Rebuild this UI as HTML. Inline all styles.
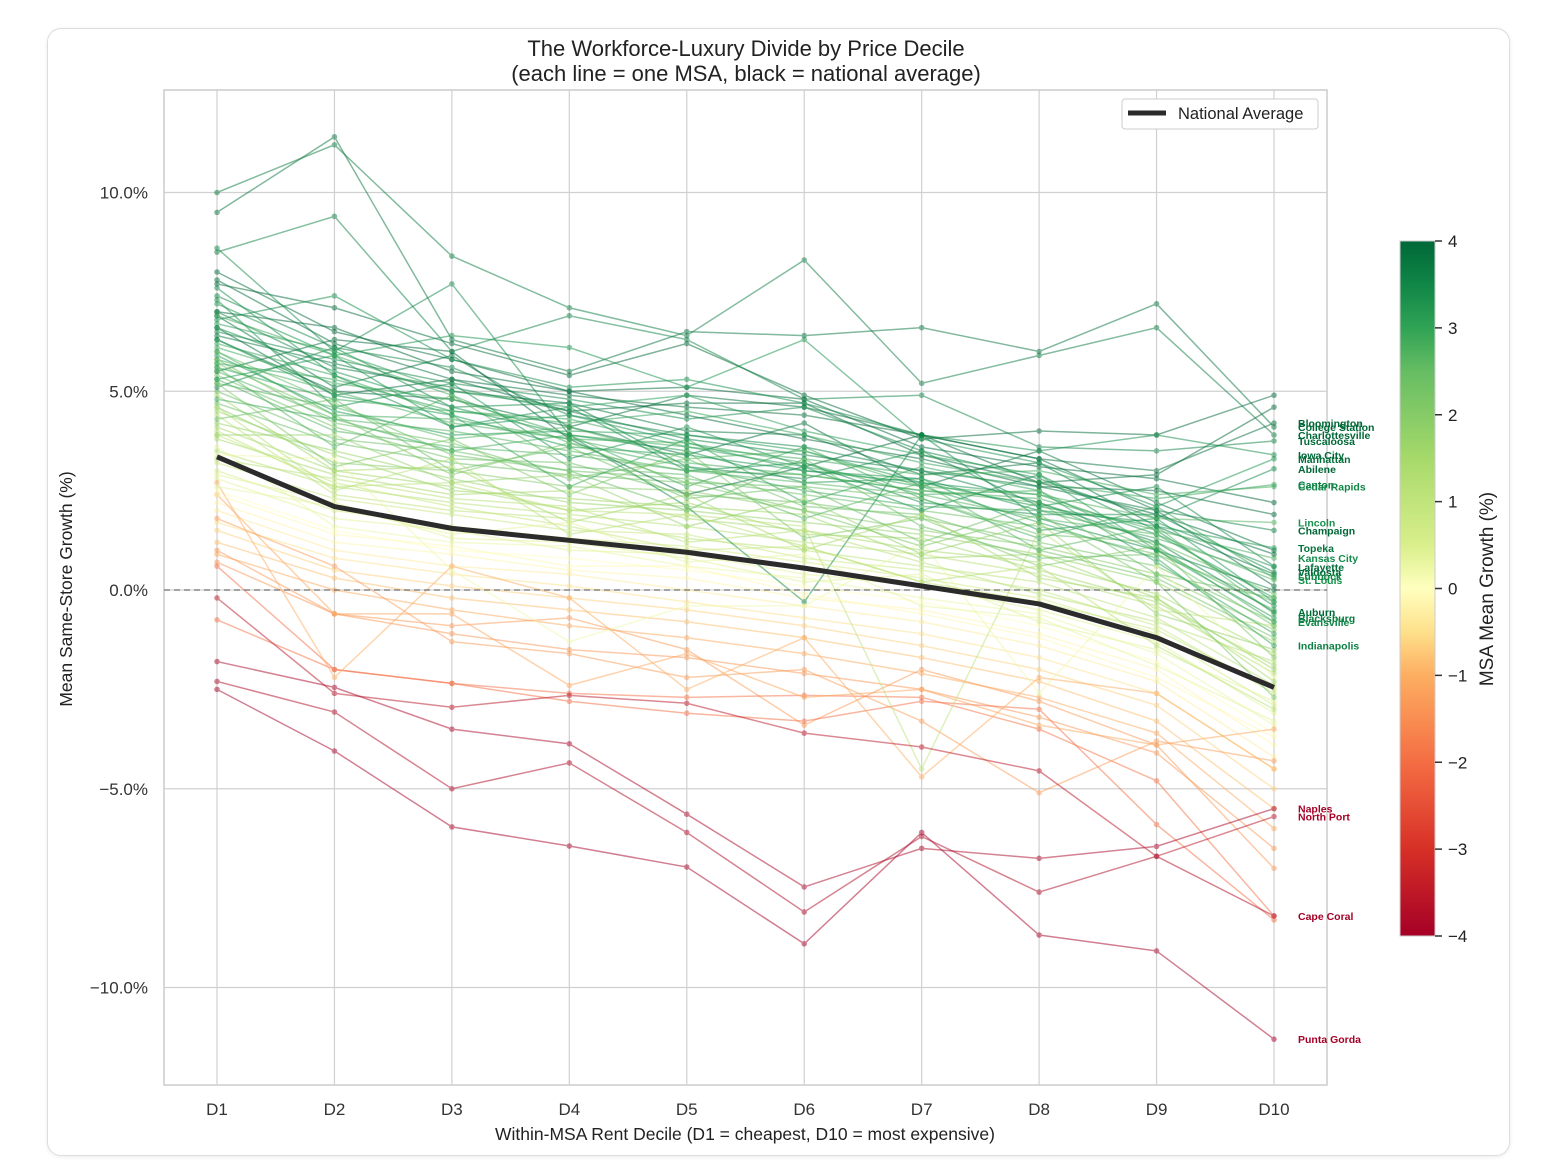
<!DOCTYPE html>
<html><head><meta charset="utf-8"><style>
body{margin:0;background:#fff;width:1554px;height:1176px;overflow:hidden;font-family:"Liberation Sans",sans-serif;}
#card{position:absolute;left:47px;top:28px;width:1461px;height:1126px;border:1px solid #ddd;border-radius:14px;box-shadow:0 1px 4px rgba(0,0,0,0.08);}
svg{position:absolute;left:0;top:0;}
</style></head><body>
<div id="card"></div>
<svg id="chart" width="1554" height="1176"></svg>
<script>
const deciles=["D1","D2","D3","D4","D5","D6","D7","D8","D9","D10"];
const yTicks=[-10,-5,0,5,10];
const cbTicks=[-4,-3,-2,-1,0,1,2,3,4];
const nationalAvg=[3.35,2.1,1.55,1.25,0.95,0.55,0.1,-0.35,-1.2,-2.45];
const namedNames=["Bloomington","College Station","Charlottesville","Tuscaloosa","Iowa City","Manhattan","Abilene","Canton","Cedar Rapids","Lincoln","Champaign","Topeka","Kansas City","Lafayette","Valdosta","Lubbock","St. Louis","Auburn","Blacksburg","Evansville","Indianapolis","Naples","North Port","Cape Coral","Punta Gorda"];
const namedMeans=[3.9,3.8,3.7,3.6,3.4,3.3,3.5,3.0,2.9,2.7,3.6,3.2,2.8,3.3,3.4,2.9,2.7,3.5,3.1,2.9,3.0,-3.9,-3.6,-3.8,-4.0];
const namedSeries=[
[7.8,6.2,5.3,4.9,4.6,4.4,3.9,3.3,3.0,4.2],
[9.5,11.4,6.3,5.5,6.5,6.4,6.6,6.0,7.2,4.1],
[10.0,11.2,8.4,7.1,6.4,8.3,5.2,5.9,6.6,3.9],
[8.5,9.4,6.0,6.9,6.3,4.8,4.9,3.6,3.5,3.75],
[6.8,7.4,5.8,5.1,5.3,4.7,3.9,3.5,3.9,3.4],
[7.2,5.9,6.4,6.1,5.1,6.3,3.8,3.2,2.1,3.3],
[6.5,5.8,5.2,4.8,4.3,4.6,3.5,2.8,1.8,3.05],
[5.6,4.8,4.5,4.2,4.5,3.9,3.2,2.7,2.3,2.65],
[6.1,5.2,4.8,3.9,3.6,3.3,2.9,3.0,2.4,2.6],
[5.2,4.6,3.8,4.1,3.3,3.5,2.6,2.4,1.8,1.7],
[7.0,5.6,5.1,4.5,3.8,3.4,3.0,2.6,2.0,1.5],
[6.3,4.9,4.4,3.6,3.4,3.0,2.7,2.1,1.6,1.06],
[5.8,5.0,4.2,3.8,3.2,2.9,2.5,2.3,1.5,0.8],
[6.6,5.5,4.6,3.9,3.5,2.7,2.8,2.0,1.7,0.58],
[7.6,5.4,4.1,4.6,3.0,3.2,2.2,1.9,1.9,0.45],
[6.9,5.9,4.9,3.7,3.1,2.5,2.1,2.0,1.3,0.35],
[5.5,4.3,4.0,3.5,3.0,2.7,2.4,1.8,1.4,0.25],
[7.4,6.1,5.6,4.4,3.9,3.6,3.0,2.2,1.2,-0.55],
[6.7,6.0,5.0,4.6,4.9,4.0,3.4,2.9,1.0,-0.7],
[6.0,4.4,4.3,3.8,3.7,3.2,2.4,2.5,1.1,-0.8],
[5.7,5.3,4.5,4.3,3.6,3.1,2.6,1.7,0.8,-1.4],
[-1.8,-2.45,-3.5,-3.87,-5.64,-7.47,-6.5,-6.75,-6.45,-5.5],
[-0.2,-2.6,-2.95,-2.65,-2.85,-3.6,-3.95,-4.55,-6.7,-5.7],
[-2.3,-3.07,-5.0,-4.35,-6.1,-8.1,-6.2,-7.6,-6.7,-8.2],
[-2.5,-4.05,-5.96,-6.44,-6.97,-8.9,-6.1,-8.68,-9.08,-11.3]];
const bgSeries=[
[5.0,3.8,3.5,3.0,2.8,2.4,2.0,1.6,0.9,-0.3],[4.6,3.2,3.0,2.6,2.5,2.0,1.5,1.1,0.4,-1.0],
[5.4,4.1,3.3,3.2,2.4,2.2,1.8,1.2,0.6,-0.8],[4.2,3.5,2.8,2.2,2.0,1.7,1.4,0.9,0.2,-1.3],
[3.8,2.9,2.4,2.5,1.8,1.5,1.0,0.7,-0.1,-1.6],[4.9,3.0,2.6,2.0,2.2,1.4,1.3,0.5,-0.3,-1.9],
[3.5,2.6,2.2,1.9,1.6,1.2,0.9,0.4,-0.4,-2.1],[4.4,2.4,2.0,1.8,1.3,1.0,0.6,0.2,-0.7,-2.4],
[3.2,2.3,1.9,1.5,1.4,0.8,0.5,0.0,-0.9,-2.6],[3.0,2.0,1.6,1.3,1.1,0.7,0.3,-0.2,-1.1,-2.9],
[2.8,1.8,1.5,1.0,0.9,0.4,0.1,-0.5,-1.3,-3.1],[3.6,1.6,1.2,1.1,0.6,0.3,-0.2,-0.6,-1.6,-3.4],
[2.5,1.5,1.0,0.8,0.5,0.1,-0.3,-0.9,-1.8,-3.6],[2.2,1.2,0.9,0.5,0.3,-0.2,-0.5,-1.1,-2.0,-3.9],
[2.0,1.0,0.6,0.4,0.0,-0.4,-0.8,-1.4,-2.3,-4.2],[1.7,0.8,0.4,0.1,-0.3,-0.7,-1.1,-1.7,-2.6,-4.5],
[1.5,0.5,0.1,-0.2,-0.5,-0.9,-1.4,-2.0,-2.9,-5.0],[1.2,0.3,-0.2,-0.5,-0.8,-1.2,-1.7,-2.3,-3.3,-5.5],
[0.9,0.0,-0.5,-0.9,-1.2,-1.6,-2.1,-2.7,-3.6,-6.0],[0.7,-0.6,-1.1,-1.5,-1.7,-2.1,-2.5,-3.2,-4.1,-6.5],
[1.0,-0.6,-0.9,-0.7,-1.5,-3.4,-2.0,-2.8,-3.9,-7.0],[0.6,-2.0,-2.35,-2.8,-3.1,-3.3,-2.8,-3.0,-5.9,-8.3],
[-0.75,-2.0,-2.35,-2.6,-2.7,-2.65,-2.7,-3.5,-4.8,-8.2],[1.8,0.6,-1.3,-1.6,-2.2,-2.0,-3.3,-5.1,-3.8,-4.3],
[2.4,-0.6,-0.6,-2.4,-1.6,-2.7,-2.5,-3.4,-3.9,-3.5],[6.3,5.0,4.8,4.1,4.9,4.6,3.9,3.3,2.0,0.1],
[5.9,4.5,3.9,4.0,3.9,3.5,2.7,2.4,1.4,-0.2],[6.6,4.9,5.3,4.5,4.7,4.7,3.4,2.7,1.9,0.9],
[5.3,4.0,3.6,3.4,3.0,2.9,2.5,2.2,1.0,-0.5],[4.7,3.7,3.2,2.9,2.7,2.6,2.3,1.4,1.2,-0.1],
[8.0,6.5,5.8,5.0,5.1,4.8,3.6,3.1,2.8,2.2],[7.7,7.1,6.2,5.4,6.2,4.9,3.8,4.0,3.9,4.9],
[5.5,6.3,6.0,3.8,2.4,3.1,3.9,2.7,2.9,4.6],[8.6,6.0,7.7,3.9,2.1,-0.3,3.9,1.8,1.0,0.0],
[4.0,2.6,2.7,2.0,1.9,1.6,-4.5,1.5,-0.5,-0.9],[3.4,3.3,0.5,-1.3,-0.4,-0.4,1.2,-2.6,0.6,-2.2],
[2.7,-2.2,0.6,-0.2,-2.5,-1.2,-4.7,-2.2,-2.6,-4.5],[5.8,4.2,3.7,2.8,3.3,2.1,1.9,1.0,0.3,-1.2],
[4.5,3.4,2.5,2.3,2.1,1.9,0.8,0.9,-0.2,-2.0],[2.9,2.2,1.3,1.2,0.8,0.2,0.4,-0.8,-1.5,-2.8],
[3.9,2.7,2.1,1.6,1.0,1.1,0.2,-0.3,-1.0,-2.5],[2.4,1.4,1.1,0.6,0.6,-0.1,-0.6,-1.2,-2.2,-3.7],
[6.9,5.1,5.9,4.1,3.4,4.2,2.6,3.5,2.2,1.0],[5.1,6.1,4.6,4.7,3.1,2.8,3.5,2.1,2.6,0.6],
[7.3,4.6,5.2,3.3,4.1,3.1,2.0,2.9,1.5,-0.4],[4.8,4.3,3.5,3.9,2.6,3.6,2.3,1.3,2.1,0.3],
[6.2,5.4,4.4,2.6,3.8,2.2,3.1,2.5,0.7,-1.1],[5.6,3.6,4.9,3.1,2.9,1.8,2.7,1.0,1.6,-0.6],
[4.3,4.8,3.0,3.6,2.3,2.6,1.2,2.2,0.4,-0.2],[5.2,3.1,3.8,2.4,3.5,1.3,1.8,0.6,1.1,-1.7],
[3.9,3.9,2.7,2.9,1.6,2.3,0.9,1.7,-0.6,-1.5],[6.0,4.7,3.4,3.0,2.0,3.3,1.6,0.8,0.9,-0.9],
[4.1,3.0,3.1,1.7,2.4,1.0,1.9,0.3,-0.2,-2.3],[3.3,2.8,2.3,2.1,1.2,1.5,0.7,-0.1,-0.8,-1.8],
[5.7,4.4,2.9,3.7,2.7,2.0,1.1,1.9,0.2,-2.7],[4.6,2.5,3.3,1.4,1.9,1.1,0.2,0.6,-1.4,-3.0],
[2.6,2.1,1.4,1.7,0.7,0.9,-0.4,-0.7,-1.9,-3.3],[7.0,6.6,5.5,5.0,4.4,3.8,3.3,2.6,2.5,1.9],
[6.4,5.7,5.0,4.7,4.0,3.9,2.9,3.2,1.6,0.4],[5.3,5.9,4.1,4.4,3.7,3.0,2.8,1.5,1.8,-0.3]];

const NS="http://www.w3.org/2000/svg";
const svg=document.getElementById('chart');
const X0=217,DX=(1274-217)/9,Y0=590,KY=39.75;
const xs=i=>X0+i*DX, ys=v=>Y0-v*KY;
function el(t,a,p){const e=document.createElementNS(NS,t);for(const k in a)e.setAttribute(k,a[k]);(p||svg).appendChild(e);return e;}
const stops=[[-4,[165,0,38]],[-3,[215,48,39]],[-2,[244,109,67]],[-1,[253,174,97]],[-0.5,[254,224,139]],[0,[255,255,191]],[0.5,[217,239,139]],[1.5,[166,217,106]],[2.5,[102,189,99]],[3.2,[26,152,80]],[4,[0,104,55]]];
function col(v){v=Math.max(-4,Math.min(4,v));for(let i=0;i<stops.length-1;i++){const a=stops[i],b=stops[i+1];if(v<=b[0]){const t=(v-a[0])/(b[0]-a[0]);return 'rgb('+a[1].map((c,j)=>Math.round(c+(b[1][j]-c)*t)).join(',')+')';}}return 'rgb(0,104,55)';}
const mean=a=>a.reduce((s,v)=>s+v,0)/a.length;

el('rect',{x:164,y:90,width:1163,height:995,fill:'#fff',stroke:'#ccc','stroke-width':1.5});
deciles.forEach((d,i)=>{
  const g=el('line',{x1:xs(i),x2:xs(i),y1:90,y2:1085,stroke:'#d0d0d0','stroke-width':1.2});
  
  
  const t=el('text',{x:xs(i),y:1115,'text-anchor':'middle','font-size':17,fill:'#333'});t.textContent=d;
  
  
});
yTicks.forEach(v=>{
  const g=el('line',{x1:164,x2:1327,y1:ys(v),y2:ys(v),stroke:'#d0d0d0','stroke-width':1.2});
  
  
  const t=el('text',{x:148,y:ys(v)+6,'text-anchor':'end','font-size':17,fill:'#333'});
  t.textContent=(v<0?'\u2212':'')+Math.abs(v).toFixed(1)+'%';
  
  
});
function series(vals,c,op,name){
  const g=el('g',{opacity:op});
  
  
  el('polyline',{points:vals.map((v,i)=>xs(i)+','+ys(v)).join(' '),fill:'none',stroke:c,'stroke-width':1.5},g);
  vals.forEach((v,i)=>el('circle',{cx:xs(i),cy:ys(v),r:2.8,fill:c},g));
}
bgSeries.forEach(s=>{const m=mean(s);series(s,col(m>0?m:m*0.6),0.5,'msa-line');});
namedSeries.forEach((s,k)=>series(s,col(namedMeans[k]),0.5,'msa-line-'+namedNames[k].toLowerCase().replace(/[^a-z]+/g,'-')));
const z=el('line',{x1:164,x2:1327,y1:ys(0),y2:ys(0),stroke:'#555','stroke-width':1,'stroke-dasharray':'6,4'});


const na=el('polyline',{points:nationalAvg.map((v,i)=>xs(i)+','+ys(v)).join(' '),fill:'none',stroke:'#2b2b2b','stroke-width':5,'stroke-linejoin':'round'});


namedSeries.forEach((s,k)=>{
  const m=namedMeans[k];
  const t=el('text',{x:1298,y:ys(s[9])+4,'font-size':10.5,'font-weight':'bold',fill:col(m>0?m+0.6:-4)});
  t.textContent=namedNames[k];
  
  
});
[['The Workforce-Luxury Divide by Price Decile',56],['(each line = one MSA, black = national average)',81]].forEach(([s,y])=>{
  const t=el('text',{x:746,y:y,'text-anchor':'middle','font-size':22,fill:'#222'});t.textContent=s;
  
  
});
let t=el('text',{x:745,y:1140,'text-anchor':'middle','font-size':17.5,fill:'#222'});
t.textContent='Within-MSA Rent Decile (D1 = cheapest, D10 = most expensive)';


t=el('text',{x:0,y:0,'text-anchor':'middle','font-size':17.5,fill:'#222',transform:'translate(72,589) rotate(-90)'});
t.textContent='Mean Same-Store Growth (%)';


const lg=el('g',{});


el('rect',{x:1122,y:99,width:196,height:30,rx:3,fill:'#fff',stroke:'#ccc'},lg);
el('line',{x1:1128,x2:1166,y1:113,y2:113,stroke:'#2b2b2b','stroke-width':5},lg);
t=el('text',{x:1178,y:119,'font-size':16.5,fill:'#222'},lg);t.textContent='National Average';
const defs=el('defs',{});
const gr=el('linearGradient',{id:'cb',x1:0,y1:1,x2:0,y2:0},defs);
for(let i=0;i<=16;i++){const v=-4+i*0.5;el('stop',{offset:(i/16),'stop-color':col(v)},gr);}
const cb=el('rect',{x:1400,y:241,width:35,height:695,fill:'url(#cb)',stroke:'#ccc'});


cbTicks.forEach(v=>{
  const y=936-(v+4)/8*695;
  el('line',{x1:1435,x2:1442,y1:y,y2:y,stroke:'#333','stroke-width':1.5});
  const s=el('text',{x:1448,y:y+6,'font-size':17,fill:'#222'});s.textContent=(v<0?'\u2212':'')+Math.abs(v);
  
  
});
t=el('text',{x:0,y:0,'text-anchor':'middle','font-size':19,fill:'#222',transform:'translate(1493,589) rotate(-90)'});
t.textContent='MSA Mean Growth (%)';


</script>
</body></html>
